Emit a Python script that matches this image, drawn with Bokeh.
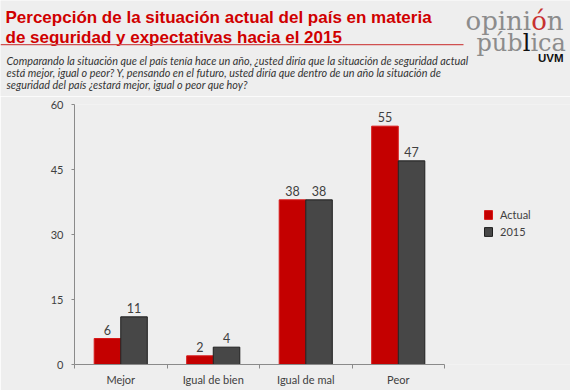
from bokeh.plotting import figure
from bokeh.layouts import column
from bokeh.models import (Range1d, FixedTicker, Label, Legend, LegendItem,
                          BoxAnnotation, ColumnDataSource)
from bokeh.transform import dodge
from bokeh.core.properties import value
from bokeh.embed import file_html
from bokeh.resources import INLINE

# ---------------- data ----------------
categories = ["Mejor", "Igual de bien", "Igual de mal", "Peor"]
actual = [6, 2, 38, 55]
y2015 = [11, 4, 38, 47]
series_names = ["Actual", "2015"]
y_ticks = [0, 15, 30, 45, 60]
y_max = 60

title_lines = ["Percepción de la situación actual del país en materia",
               "de seguridad y expectativas hacia el 2015"]
question_lines = [
    "Comparando la situación que el país tenía hace un año, ¿usted diría que la situación de seguridad actual",
    "está mejor, igual o peor? Y, pensando en el futuro, usted diría que dentro de un año la situación de",
    "seguridad del país ¿estará  mejor, igual o peor que hoy?",
]

# ---------------- layout / style ----------------
BG = "#eeeeee"
RED = "#c40000"
RED_EDGE = "#d81818"
GRAY = "#474747"
GRAY_EDGE = "#1e1e1e"
TXT = "#404040"
FONT = "Lato"

W = 570
HEAD_H = 96
CHART_H = 294
PL, PR = 74, 444
PT_LOCAL, PB_LOCAL = 8, 268

ncat = len(categories)
px_x = (PR - PL) / ncat


def hy(y):
    return HEAD_H - y


# ---------------- header figure ----------------
head = figure(width=W, height=HEAD_H, frame_width=W, frame_height=HEAD_H,
              output_backend="svg", toolbar_location=None,
              x_range=Range1d(0, 1), y_range=Range1d(0, 1),
              x_axis_location=None, y_axis_location=None,
              min_border=0, min_border_left=0, min_border_right=0,
              min_border_top=0, min_border_bottom=0)
if "frame_align" in head.properties():
    head.frame_align = False
head.background_fill_color = BG
head.border_fill_color = BG
head.outline_line_color = None
head.grid.grid_line_color = None

TITLE_RED = "#d00000"
for t, yb in zip(title_lines, [16.5, 36.5]):
    head.add_layout(Label(x=5, y=hy(yb), x_units="screen", y_units="screen",
                          text=t, text_font="Liberation Sans", text_font_style="bold",
                          text_font_size="17px", text_color=TITLE_RED,
                          text_baseline="alphabetic"))
head.add_layout(BoxAnnotation(left=0, right=463, top=hy(43.5), bottom=hy(44.7),
                              left_units="screen", right_units="screen",
                              top_units="screen", bottom_units="screen",
                              fill_color="#d05050", fill_alpha=1, line_color=None))
for t, yb in zip(question_lines, [60, 71.8, 83.6]):
    head.add_layout(Label(x=6, y=hy(yb), x_units="screen", y_units="screen",
                          text=t, text_font=FONT, text_font_style="italic",
                          text_font_size="10.8px", text_color="#333333",
                          text_baseline="alphabetic"))

LOGO_GRAY = "#8c8c8c"
LF = "DejaVu Serif"
S1, S2 = 26, 24
logo_parts = [
    ("opini", 465, 20, LOGO_GRAY, S1),
    ("ó", 465 + 2.526 * S1, 20, "#c83030", S1),
    ("n", 465 + 3.128 * S1, 20, LOGO_GRAY, S1),
    ("púb", 476, 42.5, LOGO_GRAY, S2),
    ("l", 476 + 1.926 * S2, 42.5, "#111111", S2),
    ("ica", 476 + 2.246 * S2, 42.5, LOGO_GRAY, S2),
]
for t, x0, y0, c, s in logo_parts:
    head.add_layout(Label(x=x0, y=hy(y0), x_units="screen", y_units="screen", text=t,
                          text_font=LF, text_font_size=f"{s}px", text_color=c,
                          text_baseline="alphabetic"))
head.add_layout(Label(x=563, y=hy(57), x_units="screen", y_units="screen", text="UVM",
                      text_font="Liberation Sans", text_font_style="bold",
                      text_font_size="11.5px", text_color="#111111",
                      text_align="right", text_baseline="alphabetic"))

# ---------------- chart figure ----------------
xc = [i + 0.5 for i in range(ncat)]
src = ColumnDataSource(dict(
    x=xc, actual=actual, y2015=y2015,
    la=[str(v) for v in actual], lb=[str(v) for v in y2015],
))

p = figure(width=W, height=CHART_H, output_backend="svg", toolbar_location=None,
           x_range=Range1d(0, (W - PL) / px_x), y_range=Range1d(0, y_max),
           min_border_left=PL, min_border_right=0,
           min_border_top=PT_LOCAL, min_border_bottom=CHART_H - PB_LOCAL)
if "frame_align" in p.properties():
    p.frame_align = False
p.background_fill_color = BG
p.border_fill_color = BG
p.outline_line_color = None
p.grid.grid_line_color = None

bw = 0.287
ra = p.vbar(x=dodge("x", -bw / 2), top="actual", width=bw, source=src,
            fill_color=RED, line_color=RED_EDGE, line_width=1)
rb = p.vbar(x=dodge("x", bw / 2), top="y2015", width=bw, source=src,
            fill_color=GRAY, line_color=GRAY_EDGE, line_width=1)

p.text(x=dodge("x", -bw / 2), y="actual", text="la", source=src,
       text_align="center", text_baseline="bottom", y_offset=-4,
       text_font=value(FONT), text_font_size="12.5px", text_color=TXT)
p.text(x=dodge("x", bw / 2), y="y2015", text="lb", source=src,
       text_align="center", text_baseline="bottom", y_offset=-4,
       text_font=value(FONT), text_font_size="12.5px", text_color=TXT)

AX = "#8a8a8a"
xa = p.xaxis[0]
xa.bounds = (0, ncat)
xa.ticker = FixedTicker(ticks=xc, minor_ticks=list(range(ncat + 1)))
xa.major_label_overrides = {x: c for x, c in zip(xc, categories)}
xa.major_tick_line_color = None
xa.minor_tick_line_color = AX
xa.minor_tick_out = 4
xa.minor_tick_in = 0
xa.axis_line_color = AX
xa.major_label_standoff = 2
xa.major_label_text_font = FONT
xa.major_label_text_font_size = "11px"
xa.major_label_text_color = TXT

ya = p.yaxis[0]
ya.bounds = (0, y_max)
ya.ticker = FixedTicker(ticks=y_ticks)
ya.minor_tick_line_color = None
ya.major_tick_out = 3
ya.major_tick_in = 0
ya.major_tick_line_color = AX
ya.axis_line_color = AX
ya.major_label_standoff = 8
ya.major_label_text_font = FONT
ya.major_label_text_font_size = "11px"
ya.major_label_text_color = TXT

legend = Legend(items=[LegendItem(label=series_names[0], renderers=[ra]),
                       LegendItem(label=series_names[1], renderers=[rb])],
                location=(483 - PL, (HEAD_H + PB_LOCAL) - 238), orientation="vertical",
                glyph_width=10, glyph_height=11, label_standoff=7, spacing=4,
                padding=0, margin=0, label_height=11,
                border_line_color=None, background_fill_alpha=0,
                label_text_font=FONT, label_text_font_size="11px",
                label_text_color=TXT)
p.add_layout(legend)

page = column(head, p, spacing=0)
open("out.html", "w").write(file_html(page, INLINE))
